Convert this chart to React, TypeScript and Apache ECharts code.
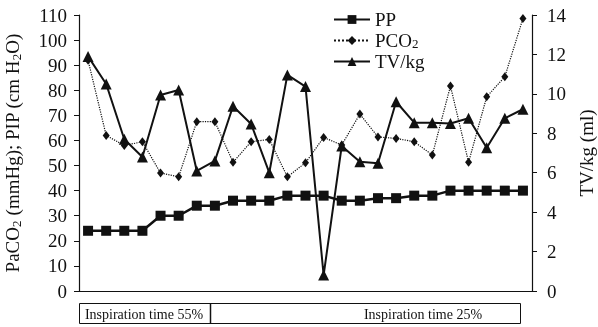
import React, { useEffect, useRef } from "react";
import * as echarts from "echarts";

const categories = ["1","2","3","4","5","6","7","8","9","10","11","12","13","14","15","16","17","18","19","20","21","22","23","24","25"];
const ppValues = [24,24,24,24,30,30,34,34,36,36,36,38,38,38,36,36,37,37,38,38,40,40,40,40,40];
const pco2Values = [92,62,58,59.5,47,45.5,67.5,67.5,51.3,59.5,60.4,45.5,51.1,61.2,58.2,70.5,61.4,60.8,59.5,54.2,81.7,51.3,77.4,85.4,108.6];
const tvValues = [11.9,10.5,7.7,6.8,9.94,10.2,6.09,6.6,9.37,8.47,6.0,10.96,10.37,0.81,7.36,6.56,6.48,9.6,8.54,8.54,8.5,8.76,7.27,8.76,9.22];
const leftTicks = { min: 0, max: 110, interval: 10 };
const rightTicks = { min: 0, max: 14, interval: 2 };
const boxLabels = ["Inspiration time 55%", "Inspiration time 25%"];

const FONT = "Liberation Serif";

export default function App() {
  const ref = useRef<HTMLDivElement>(null);
  useEffect(() => {
    document.body.style.margin = "0";
    const chart = echarts.init(ref.current!, null, { renderer: "svg" });
    const rich = {
      a: { fontSize: 19, fontFamily: FONT, color: "#111", lineHeight: 22 },
      s: { fontSize: 13, fontFamily: FONT, color: "#111", lineHeight: 12, verticalAlign: "bottom" },
    };
    const legendRich = {
      a: { fontSize: 19, fontFamily: FONT, color: "#111", lineHeight: 18 },
      s: { fontSize: 13, fontFamily: FONT, color: "#111", lineHeight: 8, verticalAlign: "bottom" },
    };
    chart.setOption({
      animation: false,
      textStyle: { fontFamily: FONT, color: "#111" },
      grid: { left: 79, right: 66, top: 15, bottom: 36, containLabel: false, outerBoundsMode: "none" },
      legend: {
        orient: "vertical",
        left: 328,
        top: 5,
        itemWidth: 36,
        itemHeight: 11,
        itemGap: 2,
        data: ["PP", "PCO2", "TV/kg"],
        formatter: (n: string) => (n === "PCO2" ? "{a|PCO}{s|2}" : "{a|" + n + "}"),
        textStyle: { fontSize: 19, fontFamily: FONT, color: "#111", rich: legendRich },
      },
      xAxis: {
        type: "category",
        data: categories,
        boundaryGap: true,
        axisTick: { show: false },
        axisLabel: { show: false },
        axisLine: { lineStyle: { color: "#111", width: 1.2 } },
      },
      yAxis: [
        {
          type: "value",
          ...leftTicks,
          splitLine: { show: false },
          axisLine: { show: true, lineStyle: { color: "#111", width: 1.2 } },
          axisTick: { show: true, length: 5, lineStyle: { color: "#111" } },
          axisLabel: { fontSize: 19, fontFamily: FONT, color: "#111", margin: 12 },
          name: "{a|PaCO}{s|2}{a| (mmHg); PIP (cm H}{s|2}{a|O)}",
          nameLocation: "middle",
          nameRotate: 90,
          nameGap: 56,
          nameTextStyle: { rich },
        },
        {
          type: "value",
          ...rightTicks,
          position: "right",
          splitLine: { show: false },
          axisLine: { show: true, lineStyle: { color: "#111", width: 1.2 } },
          axisTick: { show: true, length: 5, lineStyle: { color: "#111" } },
          axisLabel: { fontSize: 19, fontFamily: FONT, color: "#111", margin: 15 },
          name: "TV/kg (ml)",
          nameLocation: "middle",
          nameRotate: 90,
          nameGap: 45,
          nameTextStyle: { fontSize: 19, fontFamily: FONT, color: "#111" },
        },
      ],
      graphic: [
        { type: "rect", shape: { x: 79.5, y: 303.5, width: 441, height: 20 }, style: { fill: "#fff", stroke: "#111", lineWidth: 1 } },
        { type: "line", shape: { x1: 210.5, y1: 303.5, x2: 210.5, y2: 323.5 }, style: { stroke: "#111", lineWidth: 1.5 } },
        { type: "text", x: 144, y: 314, style: { text: boxLabels[0], fontSize: 14, fontFamily: FONT, fill: "#111", align: "center", verticalAlign: "middle" } },
        { type: "text", x: 423, y: 314, style: { text: boxLabels[1], fontSize: 14, fontFamily: FONT, fill: "#111", align: "center", verticalAlign: "middle" } },
      ],
      series: [
        {
          name: "PP",
          type: "line",
          data: ppValues,
          yAxisIndex: 0,
          symbol: "rect",
          symbolSize: 10,
          lineStyle: { color: "#111", width: 2.5 },
          itemStyle: { color: "#111" },
        },
        {
          name: "PCO2",
          type: "line",
          data: pco2Values,
          yAxisIndex: 0,
          symbol: "diamond",
          symbolSize: [7, 9],
          lineStyle: { color: "#111", width: 1.2, type: "dotted" },
          itemStyle: { color: "#111" },
        },
        {
          name: "TV/kg",
          type: "line",
          data: tvValues,
          yAxisIndex: 1,
          symbol: "triangle",
          symbolSize: 11,
          lineStyle: { color: "#111", width: 2 },
          itemStyle: { color: "#111" },
        },
      ],
    });
    return () => chart.dispose();
  }, []);
  return <div ref={ref} style={{ position: "fixed", left: 0, top: 0, width: 598, height: 327 }} />;
}
